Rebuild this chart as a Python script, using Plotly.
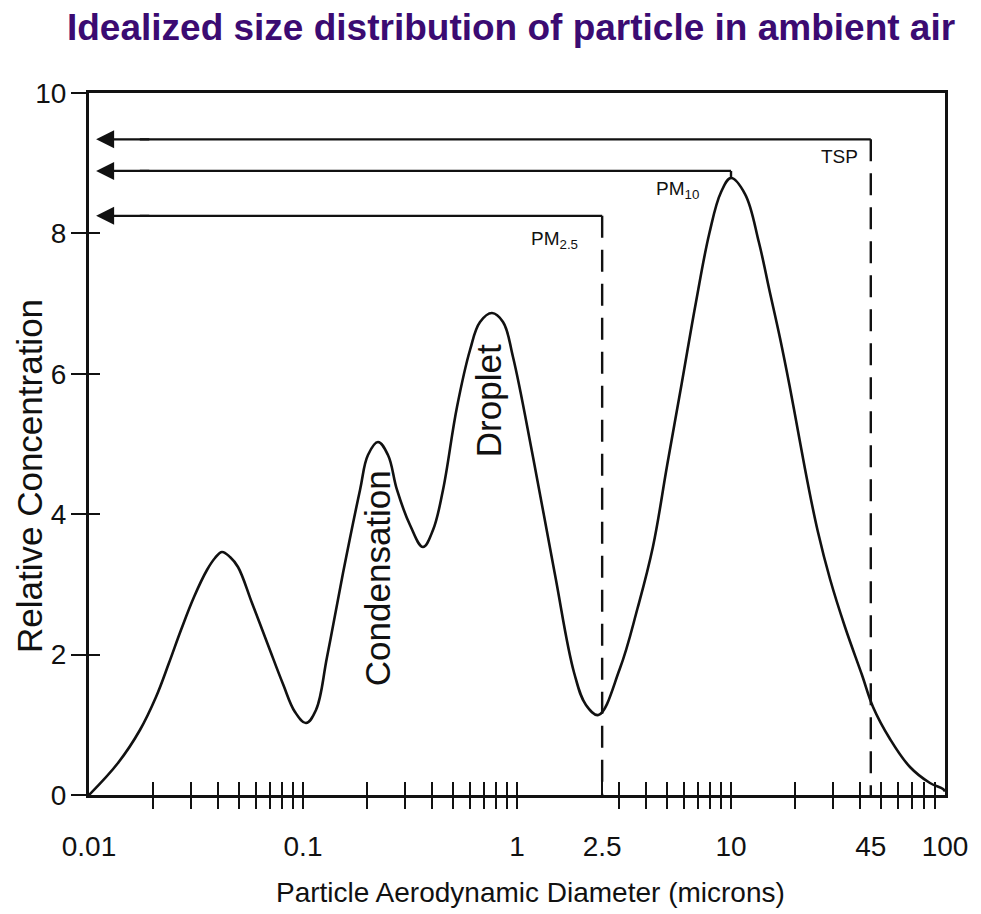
import math

import plotly.graph_objects as go

# particle aerodynamic diameter (microns) vs relative concentration
diameter = [
    0.01, 0.01366, 0.0173, 0.02056, 0.02364, 0.02691, 0.03095, 0.03559, 0.0388, 0.04182,
    0.0456, 0.04969, 0.05777, 0.06863, 0.08063, 0.09176, 0.1033, 0.115, 0.1295, 0.1538,
    0.1847, 0.2012, 0.2241, 0.2495, 0.275, 0.3162, 0.3636, 0.405, 0.451, 0.5243,
    0.6032, 0.6718, 0.764, 0.8603, 0.9579, 1.188, 1.5, 1.85, 2.1, 2.4,
    3.02, 3.661, 4.315, 5.033, 5.878, 6.862, 7.928, 8.989, 10.0, 11.63,
    13.49, 15.11, 16.94, 18.79, 20.68, 22.78, 25.42, 29.02, 34.1, 40.94,
    46.1, 55.34, 68.6, 85.1, 97.9, 100.0,
]
concentration = [
    0.0, 0.456, 0.926, 1.396, 1.88, 2.35, 2.821, 3.205, 3.376, 3.462,
    3.39, 3.248, 2.735, 2.137, 1.581, 1.182, 1.026, 1.211, 1.966, 3.162,
    4.345, 4.843, 5.028, 4.843, 4.345, 3.846, 3.533, 3.775, 4.345, 5.527,
    6.339, 6.738, 6.866, 6.738, 6.239, 4.815, 3.162, 1.738, 1.282, 1.14,
    1.795, 2.664, 3.533, 4.701, 5.855, 7.023, 8.006, 8.59, 8.789, 8.561,
    7.877, 7.194, 6.51, 5.826, 5.142, 4.459, 3.761, 3.077, 2.393, 1.709,
    1.254, 0.798, 0.399, 0.171, 0.085, 0.05,
]

# size cuts: PM2.5, PM10, TSP
cut_labels = ["PM<sub>2.5</sub>", "PM<sub>10</sub>", "TSP"]
cut_sizes = [2.5, 10.0, 45.0]
cut_levels = [8.25, 8.89, 9.34]
cut_floor = [0.0, 8.789, 0.0]
cut_dashed = [True, False, True]
arrow_tip = 0.0108

# where the cut labels sit (data units)
cut_label_x = [1.5, 5.6, 32.3]
cut_label_y = [7.9, 8.62, 9.09]

# mode names
mode_labels = ["Condensation", "Droplet"]
mode_label_x = [0.222, 0.732]
mode_label_y = [3.09, 5.61]

tick_labels = ["0.01", "0.1", "1", "2.5", "10", "45", "100"]
tick_values = [0.01, 0.1, 1, 2.5, 10, 45, 100]
minor_ticks = (
    [k / 100 for k in range(2, 11)]
    + [k / 10 for k in range(2, 11)]
    + [k for k in range(3, 11)]
    + [k * 10 for k in range(2, 10)]
)
y_ticks = [0, 2, 4, 6, 8, 10]

SANS = "Liberation Sans, Arial, sans-serif"
INK = "#111111"

fig = go.Figure()

fig.add_trace(go.Scatter(
    x=diameter, y=concentration, mode="lines",
    line=dict(color=INK, width=2.6, shape="spline", smoothing=1.1),
    hoverinfo="skip", showlegend=False,
))

for size, level, floor, dashed in zip(cut_sizes, cut_levels, cut_floor, cut_dashed):
    fig.add_trace(go.Scatter(
        x=[arrow_tip * 1.6, size], y=[level, level], mode="lines",
        line=dict(color=INK, width=2.4), hoverinfo="skip", showlegend=False,
    ))
    fig.add_trace(go.Scatter(
        x=[size, size], y=[level, floor], mode="lines",
        line=dict(color=INK, width=2.4, dash="22px,12px" if dashed else "solid"),
        hoverinfo="skip", showlegend=False,
    ))
    fig.add_annotation(
        x=math.log10(arrow_tip), y=level, ax=math.log10(arrow_tip * 1.8), ay=level,
        xref="x", yref="y", axref="x", ayref="y", text="", showarrow=True,
        arrowhead=2, arrowsize=1.5, arrowwidth=2.4, arrowcolor=INK, standoff=0,
    )

for label, lx, ly in zip(cut_labels, cut_label_x, cut_label_y):
    fig.add_annotation(
        x=math.log10(lx), y=ly, text=label, showarrow=False,
        xanchor="center", yanchor="middle",
        font=dict(family=SANS, size=19, color=INK),
    )

for label, lx, ly in zip(mode_labels, mode_label_x, mode_label_y):
    fig.add_annotation(
        x=math.log10(lx), y=ly, text=label, showarrow=False, textangle=-90,
        xanchor="center", yanchor="middle",
        font=dict(family=SANS, size=35, color=INK),
    )

# extra overlay axes only carry the tick marks that cross the axis lines
for axis in ["x2", "x3", "x4"]:
    fig.add_trace(go.Scatter(x=[], y=[], xaxis=axis, yaxis="y", showlegend=False, hoverinfo="skip"))
fig.add_trace(go.Scatter(x=[], y=[], xaxis="x", yaxis="y2", showlegend=False, hoverinfo="skip"))

tick_font = dict(family=SANS, size=28, color=INK)
x_range = [math.log10(tick_values[0]), math.log10(tick_values[-1])]
minor_axis = dict(
    type="log", range=x_range, overlaying="x", anchor="y", side="bottom",
    tickmode="array", tickwidth=2.4, tickcolor=INK, showticklabels=False,
    showgrid=False, zeroline=False, showline=False,
)

# page body adds an 8px offset, so the figure is a bit smaller than the window
fig.update_layout(
    width=973, height=906, autosize=False,
    margin=dict(l=81, r=36, t=85, b=119),
    paper_bgcolor="white", plot_bgcolor="white",
    title=dict(
        text="Idealized size distribution of particle in ambient air",
        x=0.517, xanchor="center", y=0.979, yanchor="middle", yref="container",
        font=dict(family=SANS, size=37, color="#3b0b72", weight=700),
    ),
    xaxis=dict(
        type="log", range=x_range, tickmode="array", tickvals=tick_values, ticktext=tick_labels,
        ticks="", showgrid=False, zeroline=False, showline=True, linewidth=3, linecolor=INK,
        mirror=True, tickfont=tick_font, ticklabelstandoff=24,
    ),
    xaxis2=dict(minor_axis, tickvals=minor_ticks, ticks="outside", ticklen=13),
    xaxis3=dict(minor_axis, tickvals=minor_ticks, ticks="inside", ticklen=13),
    xaxis4=dict(minor_axis, tickvals=[2.5], ticks="inside", ticklen=21),
    yaxis=dict(
        range=[0, 10], tickmode="array", tickvals=y_ticks, ticks="outside", ticklen=15,
        tickwidth=2.4, tickcolor=INK, showgrid=False, zeroline=False, showline=True,
        linewidth=3, linecolor=INK, mirror=True, tickfont=tick_font, ticklabelstandoff=-1,
    ),
    yaxis2=dict(
        range=[0, 10], overlaying="y", anchor="x", side="left", tickmode="array",
        tickvals=y_ticks[1:-1], ticks="inside", ticklen=11, tickwidth=2.4, tickcolor=INK,
        showticklabels=False, showgrid=False, zeroline=False, showline=False,
    ),
)

fig.add_annotation(
    x=0.516, y=-0.1396, xref="paper", yref="paper", showarrow=False,
    xanchor="center", yanchor="middle",
    text="Particle Aerodynamic Diameter (microns)",
    font=dict(family=SANS, size=28, color=INK),
)
fig.add_annotation(
    x=-0.0701, y=0.4544, xref="paper", yref="paper", showarrow=False, textangle=-90,
    xanchor="center", yanchor="middle",
    text="Relative Concentration",
    font=dict(family=SANS, size=35, color=INK),
)

fig.write_html("out.html")
